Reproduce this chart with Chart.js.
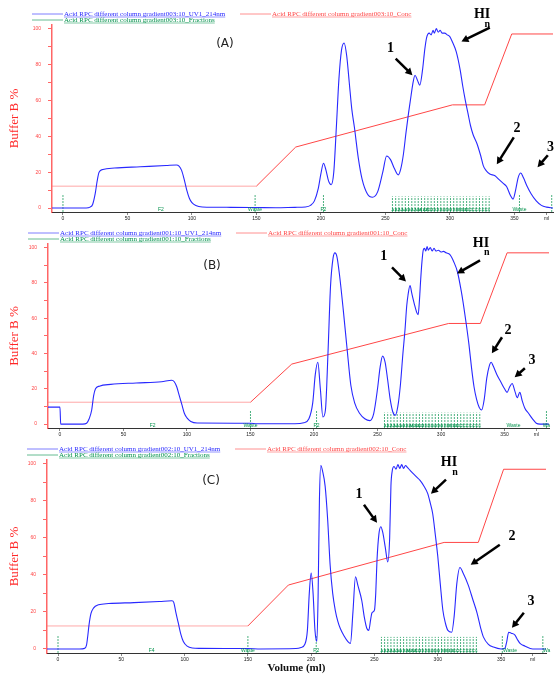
<!DOCTYPE html>
<html>
<head>
<meta charset="utf-8">
<script src="https://cdn.jsdelivr.net/npm/chart.js@4.4.1/dist/chart.umd.min.js"></script>
<style>
  body { margin: 0; background: #fff; }
  #wrap { position: relative; width: 557px; height: 678px; }
  canvas { position: absolute; left: 0; }
</style>
</head>
<body>
<div id="wrap">
  <canvas id="chartA" width="557" height="222" style="top:0px"></canvas>
  <canvas id="chartB" width="557" height="218" style="top:222px"></canvas>
  <canvas id="chartC" width="557" height="238" style="top:440px"></canvas>
</div>
<script>
// axis ticks
const xTicks = [0, 50, 100, 150, 200, 250, 300, 350];
const unitTick = 375; // where the "ml" label sits
const yTicks = [0, 10, 20, 30, 40, 50, 60, 70, 80, 90, 100];

// UV trace, [volume ml, signal]
const uvA = [[-9,0],[18,0],[21,0.5],[23,2],[25,8],[26.5,15],[28,20],[31,21.5],[40,22.3],[60,23],[80,23.7],[88,24],[90,23.4],[92,21],[94,16],[96,10],[98,5.5],[100,3],[103,1.4],[108,0.6],[130,0.4],[150,0.3],[165,0.2],[180,0.4],[188,0.6],[192,1.5],[195,4],[198,11],[200,19],[202,25],[204,21],[206,15],[208,13],[210,20],[212,45],[214,72],[216,88],[218,92],[220,85],[222,70],[224,55],[226,45],[229,28],[232,16],[236,8],[240,6],[244,9],[248,20],[251,29],[254,27],[257,22],[260,18.5],[262,22],[264,30],[266,42],[268,53],[270,63],[271.5,70],[273,74],[275,71],[276.7,68.5],[279,78],[280.5,88],[282,95],[284,97.5],[285.5,96.5],[287,99],[288,97.5],[289.5,100],[291,98],[292.5,99],[294,97.5],[296,97.5],[298,96.5],[300,95.5],[302,92.5],[305,87],[308,77],[310,68],[312,60],[314,53],[316,46],[318,41],[321,36],[324,29],[326,23.5],[328,21],[331,19],[335,18],[338,16],[341,14],[344,12],[347,7],[349,5],[351,10],[353,17],[355,19.5],[357,17],[360,12],[363,8],[367,4],[371,1.5],[375,0.5],[380,0]];
const uvB = [[-9.4,9.6],[0,9.6],[0.6,0],[18,0],[21,0.5],[23,3],[25,8],[26.5,16],[28,20],[31,21.5],[40,22.5],[60,23.3],[80,24],[88,24.8],[90,24],[92,21],[94,16],[96,11],[98,6],[100,3.5],[103,1.5],[108,0.6],[150,0.5],[155,0.2],[185,0.2],[192,0.8],[196,3],[199,12],[201,28],[203,35],[205,20],[207,4],[209,8],[211,40],[213,78],[215,94],[216.5,97],[218,95],[220,85],[223,65],[226,43],[229,22],[232,12],[236,6],[240,3],[244,2],[247,6],[250,20],[252,32],[254,38.5],[256,35],[258,25],[260,14],[262,7],[264,5],[266,10],[268,22],[270,40],[271.6,53],[273,67],[274,73],[275.6,78.5],[277,74],[279,68],[281,63],[282,62],[283,70],[284,82],[285,92],[286,98.5],[287,99.5],[288,98],[289,100.5],[290,98.5],[291.5,100],[293,98],[294.5,99.5],[296,98],[298,98.5],[300,97.5],[302,97.8],[304,97],[307,96],[310,92],[313,86],[316,75],[318,66],[320,56],[322,45],[324,32],[326,21],[328,14],[330,9.6],[332,8],[334,14],[336,26],[338,33],[339.5,35],[341,33],[344,28],[347,24],[350,20],[352,18],[354,21],[356,23],[358,19],[360,15],[362,18],[364,13],[366,9],[369,6],[372,3],[375,0.5],[378,0],[385,0]];
const uvC = [[-8.7,0],[17,0],[21,0.3],[22.5,2],[23.5,7],[24.5,13],[26,19],[28,22],[32,23.8],[40,24.5],[60,25],[80,25.6],[90,26],[91.5,25],[93,20],[95,14],[97,8],[99,4],[102,1.5],[106,0.5],[112,0.3],[150,0.2],[160,0],[188,0.2],[192,0.8],[195,2.5],[197,10],[198.5,30],[200,41],[201.5,30],[203,10],[204.5,4],[205.5,30],[206.5,80],[207.6,99],[209,96],[211,88],[213,70],[215,45],[217,30],[219,21],[221,15],[223,11],[226,7],[229,4],[231,3],[233,20],[235,39],[237,34],[240,26],[242,17],[244,11],[245.5,10],[247,16],[248,19.5],[250,21],[251,30],[252,48],[253.5,62],[255,66],[256.5,63],[258.5,55],[260.5,47],[262,60],[263,88],[264,96],[265.5,98.5],[267,97],[268.5,99.5],[270,97.5],[271.5,99.5],[273,97.5],[274.5,99],[276,98],[278,96.5],[280,95],[283,93],[286,91],[289,88],[292,84],[294,79],[296,73],[298,62],[300,50],[302,35],[304,21],[306,14],[308,10],[311,9],[313,18],[315,35],[317.5,44],[320,41],[324,34.6],[328,26],[331,19.5],[334,11],[336,6.5],[340,2.5],[344,1],[350,0],[353,0.3],[354.5,4],[356,9],[358,8.5],[361,7.5],[363,5],[365,3],[369,1.5],[375,0],[386,0]];

// Buffer B gradient, [volume ml, %B]
const concA = [[-9,12.2],[150,12.2],[180.5,34],[302,57.5],[327,57.5],[348,97],[380,97]];
const concB = [[-9.4,12.4],[150,12.4],[182.5,34],[306,57],[331,57],[352,97],[385,97]];
const concC = [[-8.7,12.4],[150,12.4],[182,34.5],[305,57.5],[332,57.5],[352,97],[386,97]];

// fraction collector marks
const fractionCuts = [255.5, 258, 260.5, 263, 265.5, 268, 270.5, 273, 275.5, 278, 280.5, 283, 285.5, 288, 290.5, 293, 295.5, 298, 300.5, 303, 305.5, 308, 310.5, 313, 315.5, 318, 320.5, 323, 325.5, 328, 330.5];
const fractionNames = ['A1','A2','A3','A4','A5','A6','A7','A8','A9','A10','A11','A12','B1','B2','B3','B4','B5','B6','B7','B8','B9','B10','B11','B12','C1','C2','C3','C4','C5','C6'];
const eventTicksA = [0, 149, 202, 354, 379];
const eventLabelsA = [[76,'F2'],[149,'Waste'],[202,'F2'],[354,'Waste']];
const eventTicksB = [150, 202, 383];
const eventLabelsB = [[73,'F2'],[150,'Waste'],[202,'F2'],[357,'Waste'],[383,'Wa']];
const eventTicksC = [0, 150, 204, 351, 383];
const eventLabelsC = [[74,'F4'],[150,'Waste'],[204,'F2'],[357,'Waste'],[386,'Wa']];

const uvColor = 'rgb(40,40,255)';
const concColor = 'rgb(255,70,70)';
const concStartColor = 'rgba(255,110,110,0.6)';
const fracColor = 'rgb(0,145,75)';

// legend: line + underlined text
const drawKey = (ctx, ds, x, y) => {
  ctx.setLineDash([]);
  ctx.strokeStyle = ds.borderColor;
  ctx.globalAlpha = 0.6;
  ctx.lineWidth = 1;
  ctx.beginPath(); ctx.moveTo(x, y); ctx.lineTo(x + 31, y); ctx.stroke();
  ctx.globalAlpha = 1;
  ctx.font = '7px "Liberation Serif"';
  ctx.fillStyle = ds.borderColor;
  ctx.textAlign = 'left';
  ctx.textBaseline = 'middle';
  ctx.fillText(ds.label, x + 32, y);
  const w = ctx.measureText(ds.label).width;
  ctx.lineWidth = 0.5;
  ctx.beginPath(); ctx.moveTo(x + 32, y + 3); ctx.lineTo(x + 32 + w, y + 3); ctx.stroke();
};

const drawArrow = (ctx, x1, y1, x2, y2) => {
  const a = Math.atan2(y2 - y1, x2 - x1);
  const len = 8;
  ctx.strokeStyle = '#000';
  ctx.fillStyle = '#000';
  ctx.lineWidth = 2.5;
  ctx.beginPath();
  ctx.moveTo(x1, y1);
  ctx.lineTo(x2 - Math.cos(a) * len * 0.8, y2 - Math.sin(a) * len * 0.8);
  ctx.stroke();
  ctx.beginPath();
  ctx.moveTo(x2, y2);
  ctx.lineTo(x2 - Math.cos(a - 0.5) * len, y2 - Math.sin(a - 0.5) * len);
  ctx.lineTo(x2 - Math.cos(a + 0.5) * len, y2 - Math.sin(a + 0.5) * len);
  ctx.closePath();
  ctx.fill();
};

const chromPlugin = {
  id: 'chrom',
  afterDraw(chart, args, opts) {
    const { ctx, chartArea, scales: { x, y } } = chart;
    const px = (v) => x.getPixelForValue(v);
    const py = (v) => y.getPixelForValue(v);
    const ds = chart.data.datasets;
    ctx.save();

    drawKey(ctx, ds[0], chartArea.left - 20, chartArea.top - 11);
    drawKey(ctx, ds[1], chartArea.left + 188, chartArea.top - 11);
    drawKey(ctx, ds[2], chartArea.left - 20, chartArea.top - 5);

    // fraction names
    ctx.fillStyle = fracColor;
    ctx.textAlign = 'center';
    ctx.textBaseline = 'middle';
    ctx.font = '4px "Liberation Sans"';
    fractionNames.forEach((n, i) => {
      ctx.fillText(n, px((fractionCuts[i] + fractionCuts[i + 1]) / 2), py(-0.9));
    });
    ctx.font = '5px "Liberation Sans"';
    opts.events.forEach(([v, n]) => ctx.fillText(n, px(v), py(-0.9)));

    // panel tag
    ctx.fillStyle = '#222';
    ctx.font = '12px "DejaVu Sans"';
    ctx.fillText(opts.tag[0], px(opts.tag[1]), py(opts.tag[2]));

    // peak arrows
    opts.arrows.forEach((a) => {
      drawArrow(ctx, px(a.from[0]), py(a.from[1]), px(a.to[0]), py(a.to[1]));
      ctx.fillStyle = '#000';
      ctx.font = 'bold 14px "Liberation Serif"';
      ctx.fillText(a.text, px(a.at[0]), py(a.at[1]));
      if (a.sub) {
        ctx.font = 'bold 10px "Liberation Serif"';
        ctx.fillText(a.sub, px(a.subAt[0]), py(a.subAt[1]));
      }
    });
    ctx.restore();
  }
};

const buildChart = (id, p) => {
  const canvas = document.getElementById(id);
  const H = canvas.height;
  const fracPts = [];
  fractionCuts.forEach((c) => fracPts.push([c, -2.2], [c, 6.5], [c, null]));
  p.eventTicks.forEach((c) => fracPts.push([c, -2.2], [c, 7.5], [c, null]));

  return new Chart(canvas, {
    type: 'line',
    data: {
      datasets: [
        { label: p.names[0], data: p.uv, borderColor: uvColor, borderWidth: 1.1, pointRadius: 0, cubicInterpolationMode: 'monotone' },
        {
          label: p.names[1], data: p.conc, borderColor: concColor, borderWidth: 1, pointRadius: 0, tension: 0,
          segment: { borderColor: (c) => (c.p0DataIndex === 0 ? concStartColor : concColor) },
        },
        { label: p.names[2], data: fracPts, borderColor: fracColor, borderWidth: 0.7, pointRadius: 0, spanGaps: false, borderDash: [2, 1] },
      ],
    },
    options: {
      responsive: false,
      animation: false,
      events: [],
      layout: { padding: { top: p.area.top, right: 557 - p.area.right, left: 0, bottom: 0 } },
      plugins: {
        legend: { display: false },
        tooltip: { enabled: false },
        chrom: { events: p.eventLabels, tag: p.tag, arrows: p.arrows },
      },
      scales: {
        x: {
          type: 'linear',
          min: p.xMin,
          max: p.xMax,
          afterBuildTicks: (s) => { s.ticks = xTicks.concat([unitTick]).map((v) => ({ value: v })); },
          afterFit: (s) => { s.height = H - p.area.bottom; },
          ticks: {
            callback: (v) => (v === unitTick ? 'ml' : v),
            font: { size: 5, family: 'Liberation Sans' },
            color: '#222',
            padding: 1,
            maxRotation: 0,
            autoSkip: false,
          },
          grid: { drawOnChartArea: false, tickLength: 3, color: '#888' },
          border: { color: '#333', width: 1 },
          title: {
            display: p.xTitle,
            text: 'Volume (ml)',
            color: '#111',
            font: { family: 'Liberation Serif', size: 11, weight: 'bold' },
            padding: { top: 0, bottom: 3 },
          },
        },
        y: {
          min: -2.2,
          max: 102,
          afterBuildTicks: (s) => { s.ticks = yTicks.map((v) => ({ value: v })); },
          afterFit: (s) => { s.width = p.area.left; },
          ticks: {
            callback: (v) => (v % 20 === 0 ? v : ''),
            font: { size: 5, family: 'Liberation Sans' },
            color: concColor,
            padding: 7,
          },
          grid: { drawOnChartArea: false, tickLength: 4, color: 'rgba(255,0,0,0.6)' },
          border: { color: 'rgba(255,0,0,0.6)', width: 1.5 },
          title: {
            display: true,
            text: 'Buffer B %',
            color: 'rgb(255,40,40)',
            font: { family: 'Liberation Serif', size: 13 },
            padding: { top: 7, bottom: 0 },
          },
        },
      },
    },
    plugins: [chromPlugin],
  });
};

buildChart('chartA', {
  names: ['Acid RPC different column gradient003:10_UV1_214nm', 'Acid RPC different column gradient003:10_Conc', 'Acid RPC different column gradient003:10_Fractions'],
  uv: uvA, conc: concA, eventTicks: eventTicksA, eventLabels: eventLabelsA,
  xMin: -8.5, xMax: 380, area: { left: 52, right: 553, top: 25, bottom: 213 }, xTitle: false,
  tag: ['(A)', 125.6, 91.7],
  arrows: [
    { text: '1', at: [254, 89], from: [258, 83.3], to: [271, 74] },
    { text: 'HI', at: [325, 108], sub: 'n', subAt: [329, 102.5], from: [331, 100.5], to: [309, 92.8] },
    { text: '2', at: [352, 44.4], from: [349.6, 39.4], to: [336.4, 24.4] },
    { text: '3', at: [378, 33.9], from: [376, 29.4], to: [368, 22.8] },
  ],
});

buildChart('chartB', {
  names: ['Acid RPC different column gradient001:10_UV1_214nm', 'Acid RPC different column gradient001:10_Conc', 'Acid RPC different column gradient001:10_Fractions'],
  uv: uvB, conc: concB, eventTicks: eventTicksB, eventLabels: eventLabelsB,
  xMin: -9.4, xMax: 385, area: { left: 48, right: 549, top: 22, bottom: 206 }, xTitle: false,
  tag: ['(B)', 119.7, 89.8],
  arrows: [
    { text: '1', at: [255, 94.9], from: [261.4, 88.7], to: [272.4, 80.8] },
    { text: 'HI', at: [331.5, 102.3], sub: 'n', subAt: [336, 97.2], from: [330.7, 92.7], to: [312.6, 85.3] },
    { text: '2', at: [352.8, 53.1], from: [348, 49.2], to: [340, 40.1] },
    { text: '3', at: [371.7, 36.2], from: [366, 31.6], to: [358, 26.6] },
  ],
});

buildChart('chartC', {
  names: ['Acid RPC different column gradient002:10_UV1_214nm', 'Acid RPC different column gradient002:10_Conc', 'Acid RPC different column gradient002:10_Fractions'],
  uv: uvC, conc: concC, eventTicks: eventTicksC, eventLabels: eventLabelsC,
  xMin: -8.7, xMax: 385.5, area: { left: 47, right: 546, top: 20, bottom: 213 }, xTitle: true,
  tag: ['(C)', 120.9, 90.8],
  arrows: [
    { text: '1', at: [237.8, 83.2], from: [241.7, 77.8], to: [252, 68.1] },
    { text: 'HI', at: [308.8, 100.5], sub: 'n', subAt: [313.6, 95.1], from: [306.5, 91.4], to: [294.6, 83.8] },
    { text: '2', at: [358.6, 60.5], from: [349, 56.2], to: [326, 45.4] },
    { text: '3', at: [373.6, 25.4], from: [368, 19.5], to: [358.6, 11.4] },
  ],
});
</script>
</body>
</html>
